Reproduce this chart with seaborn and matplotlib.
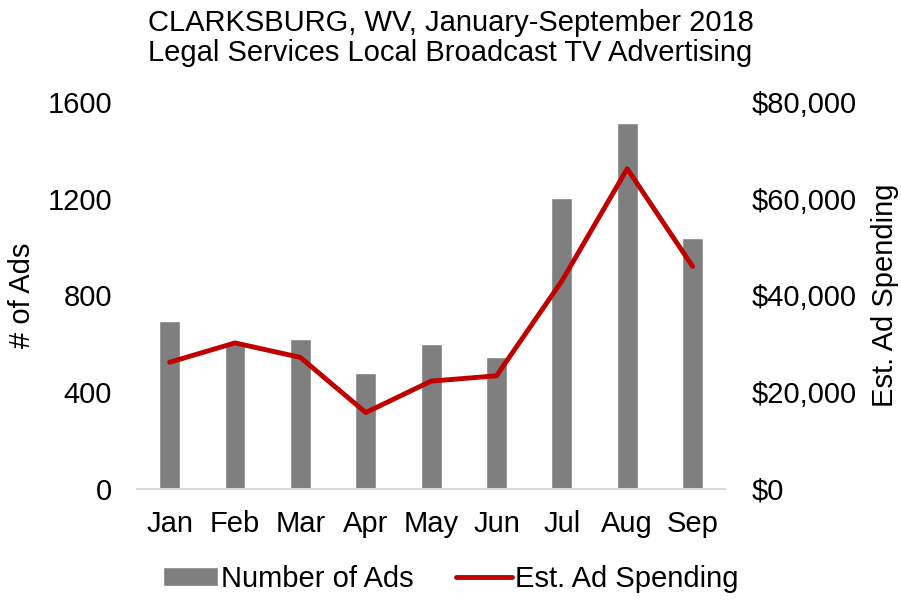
import matplotlib
matplotlib.use("Agg")
import matplotlib.pyplot as plt
import seaborn as sns
import pandas as pd
from matplotlib.ticker import FuncFormatter, FixedLocator

months = ["Jan", "Feb", "Mar", "Apr", "May", "Jun", "Jul", "Aug", "Sep"]
num_ads = [693, 600, 620, 480, 601, 545, 1203, 1515, 1037]
spending = [26200, 30200, 27200, 15800, 22300, 23400, 43000, 66200, 46000]
left_ticks = [0, 400, 800, 1200, 1600]
right_ticks = [0, 20000, 40000, 60000, 80000]
title_lines = ["CLARKSBURG, WV, January-September 2018",
               "Legal Services Local Broadcast TV Advertising"]

sns.set_theme(style="white")
plt.rcParams['font.family'] = ['Liberation Sans', 'DejaVu Sans']
plt.rcParams['text.color'] = 'black'
plt.rcParams['axes.labelcolor'] = 'black'
plt.rcParams['xtick.color'] = 'black'
plt.rcParams['ytick.color'] = 'black'

FS = 21

df = pd.DataFrame({"month": months, "ads": num_ads, "spend": spending})
df["idx"] = range(len(months))

fig = plt.figure(figsize=(9.01, 6.0), dpi=100)
ax = fig.add_axes([0.152, 0.185, 0.653, 0.645])

sns.barplot(data=df, x="month", y="ads", color="#7f7f7f", width=0.32,
            saturation=1, ax=ax, label="Number of Ads")
ax.set_ylim(0, 1600)
ax.set_xlim(-0.5, 8.5)
ax.yaxis.set_major_locator(FixedLocator(left_ticks))
ax.set_ylabel("# of Ads", fontsize=FS)
ax.yaxis.set_label_coords(-0.172, 0.5)
ax.set_xlabel("")
ax.tick_params(axis="both", labelsize=FS, length=0, colors="black")
ax.tick_params(axis="x", pad=15)
ax.tick_params(axis="y", pad=18)
for s in ["top", "left", "right"]:
    ax.spines[s].set_visible(False)
ax.spines["bottom"].set_color("#d9d9d9")
ax.spines["bottom"].set_linewidth(1.5)

ax2 = ax.twinx()
sns.lineplot(data=df, x="idx", y="spend", color="#c00000", linewidth=3.5,
             ax=ax2, label="Est. Ad Spending", legend=False)
ax2.set_ylim(0, 80000)
ax2.set_xlim(-0.5, 8.5)
ax2.yaxis.set_major_locator(FixedLocator(right_ticks))
ax2.yaxis.set_major_formatter(FuncFormatter(lambda v, p: f"${int(v):,}"))
ax2.set_ylabel("Est. Ad Spending", fontsize=FS)
ax2.yaxis.set_label_coords(1.247, 0.5)
ax2.tick_params(axis="y", labelsize=FS, length=0, pad=19, colors="black")
for s in ["top", "left", "right", "bottom"]:
    ax2.spines[s].set_visible(False)

fig.text(0.5, 0.962, title_lines[0], ha="center", va="center", fontsize=FS)
fig.text(0.5, 0.912, title_lines[1], ha="center", va="center", fontsize=FS)

h1, l1 = ax.get_legend_handles_labels()
h2, l2 = ax2.get_legend_handles_labels()
if ax.get_legend():
    ax.get_legend().remove()
fig.legend(h1 + h2, l1 + l2, loc="center", bbox_to_anchor=(0.5, 0.035),
           ncol=2, frameon=False, fontsize=FS, handlelength=1.9,
           handleheight=0.6, handletextpad=0.1, columnspacing=1.45)

fig.savefig("out.png", dpi=100)
